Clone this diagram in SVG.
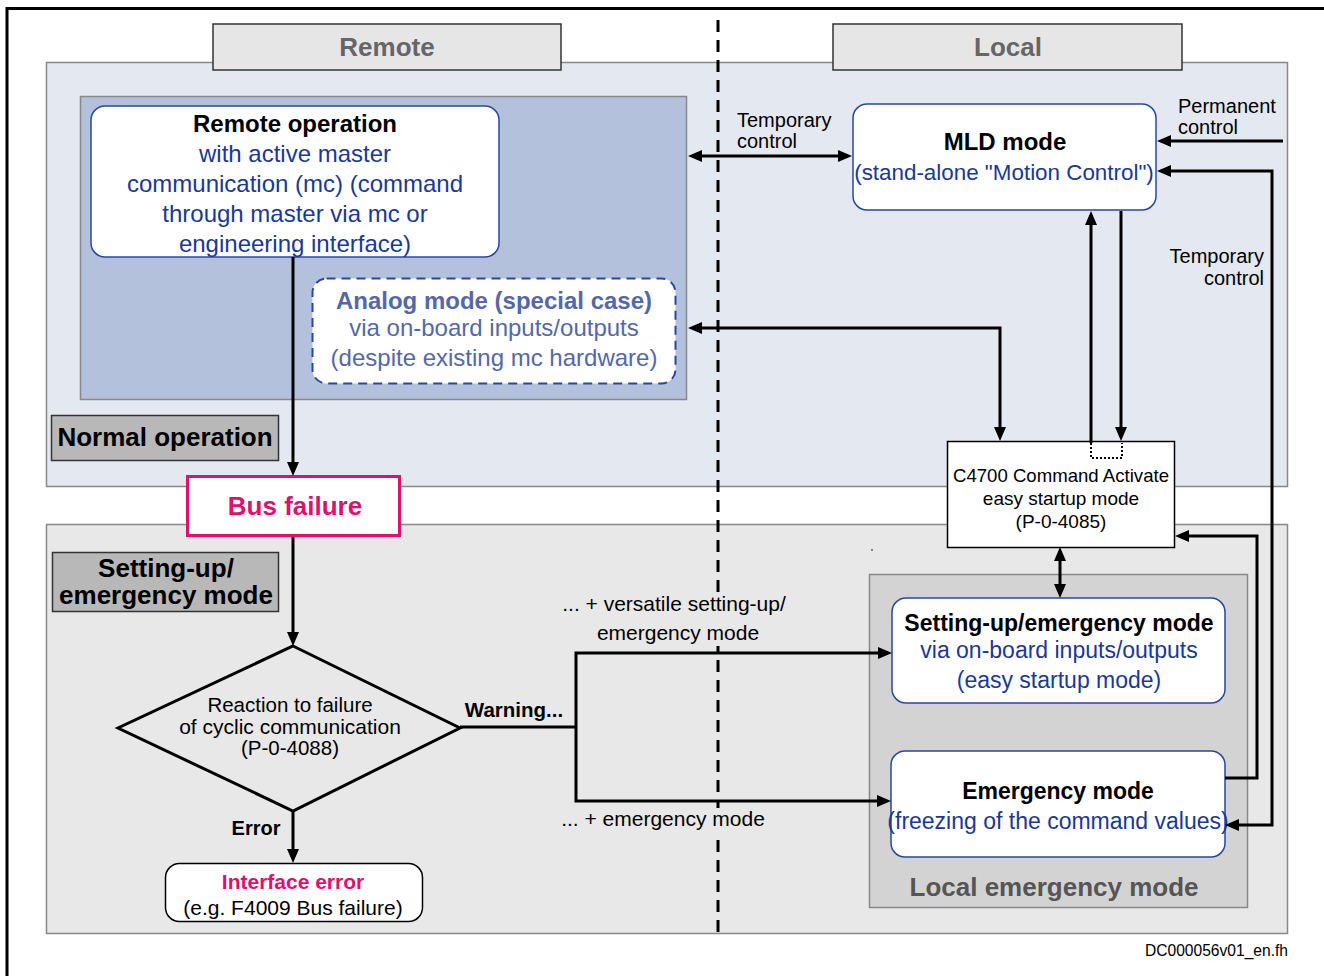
<svg xmlns="http://www.w3.org/2000/svg" width="1324" height="976" viewBox="0 0 1324 976">
  <defs>
    <marker id="ah" viewBox="0 0 14 12" refX="10" refY="6" markerWidth="14" markerHeight="12" markerUnits="userSpaceOnUse" orient="auto-start-reverse">
      <path d="M0,0 L14,6 L0,12 z" fill="#000"/>
    </marker>
    <style>
      text { font-family: "Liberation Sans", Arial, sans-serif; text-anchor: middle; }
      .b { font-weight: bold; }
      .blk { fill: #000; }
      .blue { fill: #1a3896; }
      .pink { fill: #e0106e; }
      .panel { stroke: #888; stroke-width: 1.5; }
      .hdr { fill: #e6e6e6; stroke: #333; stroke-width: 1.5; }
      .hdrtxt { fill: #666; font-weight: bold; font-size: 26px; }
      .lbl { fill: #b8b8b8; stroke: #333; stroke-width: 1.5; }
      .mode { fill: #fff; stroke: #2a47a0; stroke-width: 1.5; }
      .conn path { fill: none; stroke: #000; stroke-width: 3; }
      .arr { marker-end: url(#ah); }
      .arr2 { marker-start: url(#ah); marker-end: url(#ah); }
      .knock { fill: #e8e8e8; }
    </style>
  </defs>

  <rect x="0" y="0" width="1324" height="976" fill="#fff"/>

  <!-- outer frame -->
  <path d="M7,976 V8.5 H1324" fill="none" stroke="#000" stroke-width="3"/>

  <!-- area panels -->
  <g id="normal-area">
    <rect class="panel" x="46.5" y="62.5" width="1241" height="424" fill="#e4e8f1"/>
    <rect class="panel" x="80.5" y="96.5" width="606" height="303" fill="#b4c1dd"/>
  </g>
  <g id="setup-area">
    <rect class="panel" x="46.5" y="524.5" width="1241" height="409" fill="#e8e8e8"/>
    <rect class="panel" x="869.5" y="574.5" width="378" height="333" fill="#d3d3d3"/>
    <text class="b" x="1054" y="896" font-size="26" fill="#555">Local emergency mode</text>
    <circle cx="872" cy="550" r="0.9" fill="#555"/>
  </g>

  <!-- column headers -->
  <g id="hdr-remote">
    <rect class="hdr" x="213" y="24" width="348" height="46"/>
    <text class="hdrtxt" x="387" y="56">Remote</text>
  </g>
  <g id="hdr-local">
    <rect class="hdr" x="833" y="24" width="349" height="46"/>
    <text class="hdrtxt" x="1008" y="56">Local</text>
  </g>

  <!-- remote / local divider -->
  <line x1="718" y1="20" x2="718" y2="932" stroke="#000" stroke-width="3" stroke-dasharray="12 8"/>

  <!-- section labels -->
  <g id="lbl-normal">
    <rect class="lbl" x="51.5" y="415.5" width="227" height="45"/>
    <text class="b blk" x="165" y="446" font-size="26">Normal operation</text>
  </g>
  <g id="lbl-setup">
    <rect class="lbl" x="52.5" y="552.5" width="226" height="59"/>
    <text class="b blk" x="166" y="577" font-size="26">Setting-up/</text>
    <text class="b blk" x="166" y="604" font-size="26">emergency mode</text>
  </g>

  <!-- nodes -->
  <g id="remote-operation">
    <rect class="mode" x="91" y="106" width="408" height="151" rx="14"/>
    <text class="b blk" x="295" y="132" font-size="24">Remote operation</text>
    <text class="blue" x="295" y="162" font-size="24">with active master</text>
    <text class="blue" x="295" y="192" font-size="24">communication (mc) (command</text>
    <text class="blue" x="295" y="222" font-size="24">through master via mc or</text>
    <text class="blue" x="295" y="252" font-size="24">engineering interface)</text>
  </g>

  <g id="analog-mode">
    <rect x="312.5" y="278.5" width="363" height="105" rx="14" fill="#fff" stroke="#2a47a0" stroke-width="2" stroke-dasharray="9 6"/>
    <text class="b" x="494" y="309" font-size="24" fill="#5468a8">Analog mode (special case)</text>
    <text x="494" y="336" font-size="24" fill="#5468a8">via on-board inputs/outputs</text>
    <text x="494" y="366" font-size="24" fill="#5468a8">(despite existing mc hardware)</text>
  </g>

  <g id="mld-mode">
    <rect class="mode" x="853" y="104" width="303" height="106" rx="14"/>
    <text class="b blk" x="1005" y="150" font-size="24">MLD mode</text>
    <text class="blue" x="1004" y="180" font-size="22.4">(stand-alone "Motion Control")</text>
  </g>

  <g id="c4700">
    <rect x="947.5" y="441.5" width="227" height="106" fill="#fff" stroke="#000" stroke-width="1.5"/>
    <path d="M1091,443 V458 H1122 V443" fill="none" stroke="#000" stroke-width="2" stroke-dasharray="2 2"/>
    <text class="blk" x="1061" y="482" font-size="18.6">C4700 Command Activate</text>
    <text class="blk" x="1061" y="505" font-size="19">easy startup mode</text>
    <text class="blk" x="1061" y="528" font-size="19">(P-0-4085)</text>
  </g>

  <g id="bus-failure">
    <rect x="187.5" y="476.5" width="212" height="59" fill="#fff" stroke="#e0106e" stroke-width="3"/>
    <text class="b pink" x="295" y="515" font-size="26">Bus failure</text>
  </g>

  <g id="reaction">
    <polygon points="293,646 460,728 293,811 118,728" fill="#e8e8e8" stroke="#000" stroke-width="3" stroke-linejoin="miter"/>
    <text class="blk" x="290" y="712" font-size="20.5">Reaction to failure</text>
    <text class="blk" x="290" y="734" font-size="21">of cyclic communication</text>
    <text class="blk" x="290" y="755" font-size="20.5">(P-0-4088)</text>
  </g>

  <g id="interface-error">
    <rect x="165.5" y="863.5" width="257" height="58" rx="14" fill="#fff" stroke="#000" stroke-width="1.5"/>
    <text class="b pink" x="293" y="889" font-size="21">Interface error</text>
    <text class="blk" x="293" y="915" font-size="21">(e.g. F4009 Bus failure)</text>
  </g>

  <g id="setup-mode">
    <rect class="mode" x="892" y="598" width="333" height="105" rx="14"/>
    <text class="b blk" x="1059" y="631" font-size="23">Setting-up/emergency mode</text>
    <text class="blue" x="1059" y="658" font-size="23">via on-board inputs/outputs</text>
    <text class="blue" x="1059" y="688" font-size="23">(easy startup mode)</text>
  </g>

  <g id="emergency-mode">
    <rect class="mode" x="891" y="751" width="334" height="106" rx="14"/>
    <text class="b blk" x="1058" y="799" font-size="23">Emergency mode</text>
    <text class="blue" x="1058" y="829" font-size="23">(freezing of the command values)</text>
  </g>

  <!-- connectors -->
  <g id="connectors" class="conn">
    <path class="arr" d="M293,257 V472"/>
    <path class="arr" d="M293,537 V642"/>
    <path class="arr" d="M293,811 V859"/>
    <path d="M460,727 H576"/>
    <path class="arr" d="M576,727 V653 H888"/>
    <path class="arr" d="M576,727 V801 H887"/>
    <path class="arr2" d="M692,156 H848"/>
    <path class="arr" d="M1283,141 H1161"/>
    <path class="arr2" d="M692,328 H1000 V437"/>
    <path class="arr" d="M1091,443 V215"/>
    <path class="arr" d="M1121,211 V437"/>
    <path class="arr2" d="M1060,551 V594"/>
    <path class="arr" d="M1225,778 H1257 V536 H1179"/>
    <path class="arr2" d="M1161,171 H1272 V825 H1229"/>
  </g>

  <!-- connector labels -->
  <g id="conn-labels" class="blk" font-size="20">
    <text x="737" y="127" style="text-anchor:start">Temporary</text>
    <text x="737" y="148" style="text-anchor:start">control</text>
    <text x="1178" y="113" style="text-anchor:start">Permanent</text>
    <text x="1178" y="134" style="text-anchor:start">control</text>
    <text x="1264" y="263" style="text-anchor:end">Temporary</text>
    <text x="1264" y="285" style="text-anchor:end">control</text>
    <text class="b" x="514" y="717" font-size="20.5">Warning...</text>
    <text class="b" x="256" y="835" font-size="20">Error</text>
    <rect class="knock" x="708" y="594" width="20" height="52"/>
    <rect class="knock" x="708" y="808" width="20" height="26"/>
    <text x="674" y="611" font-size="21">... + versatile setting-up/</text>
    <text x="678" y="640" font-size="21">emergency mode</text>
    <text x="663" y="826" font-size="21">... + emergency mode</text>
  </g>

  <text x="1288" y="956" font-size="15.6" fill="#000" style="text-anchor:end">DC000056v01_en.fh</text>
</svg>
